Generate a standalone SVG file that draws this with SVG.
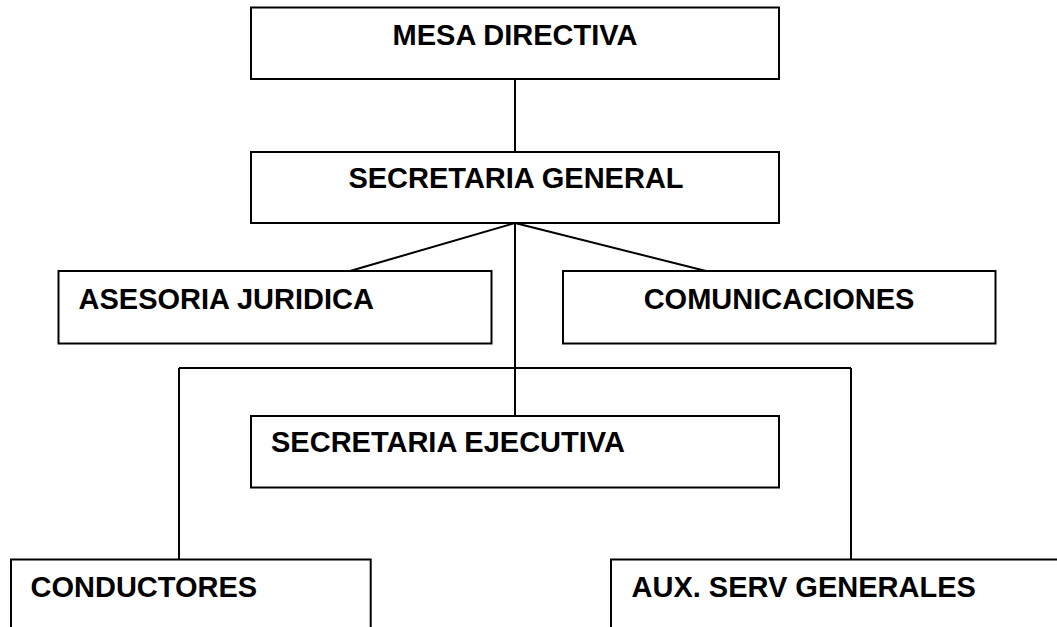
<svg xmlns="http://www.w3.org/2000/svg" width="1057" height="627" viewBox="0 0 1057 627">
<style>
.box{fill:#fff;stroke:#000;stroke-width:2}
.lbl{font-family:"Liberation Sans",Arial,sans-serif;font-weight:bold;font-size:29px;fill:#000}
.conn line{stroke:#000;stroke-width:2;fill:none}
</style>
<rect width="1057" height="627" fill="#fff"/>
<g id="connectors" class="conn">
<line x1="515" y1="79" x2="515" y2="152"/>
<line x1="515" y1="223" x2="350" y2="271"/>
<line x1="515" y1="223" x2="706" y2="271"/>
<line x1="515" y1="223" x2="515" y2="416"/>
<line x1="179" y1="368" x2="851" y2="368"/>
<line x1="179" y1="368" x2="179" y2="559.5"/>
<line x1="851" y1="368" x2="851" y2="559.5"/>
</g>
<g id="mesa-directiva">
<rect class="box" x="251" y="7.5" width="528" height="71.5"/>
<text class="lbl" x="515" y="45" text-anchor="middle">MESA DIRECTIVA</text>
</g>
<g id="secretaria-general">
<rect class="box" x="251" y="152" width="528" height="71"/>
<text class="lbl" x="516" y="187.5" text-anchor="middle">SECRETARIA GENERAL</text>
</g>
<g id="asesoria-juridica">
<rect class="box" x="58.5" y="271" width="433" height="72.5"/>
<text class="lbl" x="78.5" y="309">ASESORIA JURIDICA</text>
</g>
<g id="comunicaciones">
<rect class="box" x="563" y="271" width="432.5" height="72.5"/>
<text class="lbl" x="779" y="309" text-anchor="middle">COMUNICACIONES</text>
</g>
<g id="secretaria-ejecutiva">
<rect class="box" x="251" y="416" width="528" height="71.5"/>
<text class="lbl" x="271" y="451.7">SECRETARIA EJECUTIVA</text>
</g>
<g id="conductores">
<rect class="box" x="11" y="559.5" width="359.7" height="100"/>
<text class="lbl" x="30.5" y="596.7">CONDUCTORES</text>
</g>
<g id="aux-serv-generales">
<rect class="box" x="611" y="559.5" width="480" height="100"/>
<text class="lbl" x="631.5" y="596.7">AUX. SERV GENERALES</text>
</g>
</svg>
